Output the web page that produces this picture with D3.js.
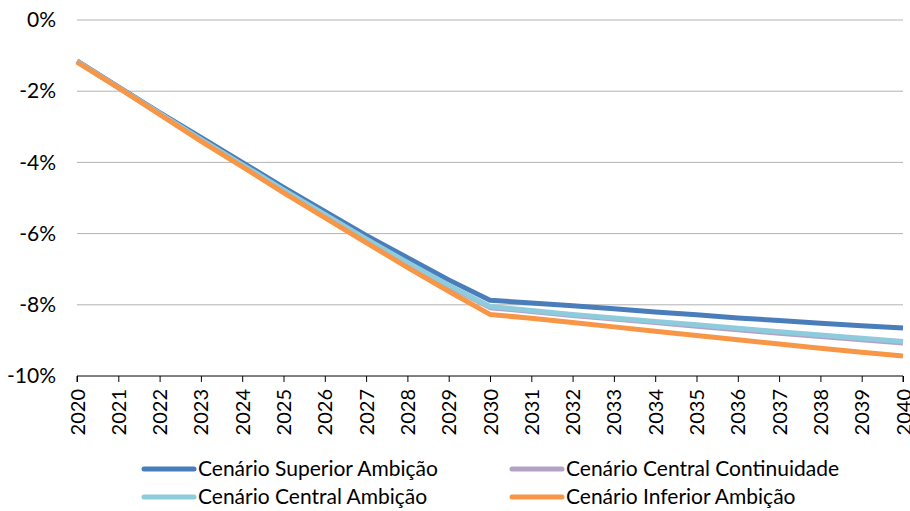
<!DOCTYPE html>
<html>
<head>
<meta charset="utf-8">
<script src="https://cdn.jsdelivr.net/npm/d3@7"></script>
<style>
  html, body { margin: 0; padding: 0; background: #fff; }
  svg { display: block; font-family: Lato, "Open Sans", sans-serif; }
</style>
</head>
<body>
<svg id="chart" width="910" height="511"></svg>
<script>
// Years on the horizontal axis
const years = d3.range(2020, 2041);

// Percentage change per scenario (in %)
const superiorAmbicao = [-1.15, -1.88, -2.60, -3.30, -4.00, -4.70, -5.38, -6.05, -6.68, -7.30, -7.87,
  -7.95, -8.03, -8.11, -8.20, -8.28, -8.37, -8.44, -8.52, -8.59, -8.65];
const centralContinuidade = [-1.16, -1.90, -2.63, -3.37, -4.08, -4.79, -5.48, -6.17, -6.84, -7.48, -8.08,
  -8.19, -8.30, -8.40, -8.50, -8.60, -8.70, -8.80, -8.89, -8.98, -9.07];
const centralAmbicao = [-1.16, -1.89, -2.62, -3.35, -4.06, -4.77, -5.46, -6.15, -6.81, -7.45, -8.05,
  -8.16, -8.27, -8.37, -8.47, -8.56, -8.66, -8.76, -8.85, -8.94, -9.03];
const inferiorAmbicao = [-1.18, -1.90, -2.65, -3.40, -4.12, -4.85, -5.55, -6.25, -6.95, -7.62, -8.27,
  -8.38, -8.50, -8.62, -8.74, -8.86, -8.98, -9.10, -9.22, -9.33, -9.44];

const yTicks = [0, -2, -4, -6, -8, -10];

// Draw order: first listed is drawn first (bottom)
const series = [
  { name: "Cenário Superior Ambição", values: superiorAmbicao, color: "#4a7ebb" },
  { name: "Cenário Central Continuidade", values: centralContinuidade, color: "#b3a2c7" },
  { name: "Cenário Central Ambição", values: centralAmbicao, color: "#8ecbdc" },
  { name: "Cenário Inferior Ambição", values: inferiorAmbicao, color: "#f79646" }
];

const svg = d3.select("#chart");
const plotLeft = 77, plotRight = 903, plotTop = 20, plotBottom = 376;
const fontStack = "Lato, 'Open Sans', sans-serif";

const x = d3.scaleLinear().domain([2020, 2040]).range([plotLeft, plotRight]);
const y = d3.scaleLinear().domain([-10, 0]).range([plotBottom, plotTop]);

// Horizontal gridlines
svg.append("g")
  .selectAll("line")
  .data(yTicks.filter(t => t !== -10))
  .join("line")
  .attr("x1", plotLeft).attr("x2", plotRight)
  .attr("y1", d => y(d)).attr("y2", d => y(d))
  .attr("stroke", "#b3b3b3").attr("stroke-width", 1);

// Y axis labels
const yAxis = d3.axisLeft(y).tickValues(yTicks).tickSize(0).tickPadding(21)
  .tickFormat(d => d + "%");
svg.append("g")
  .attr("transform", `translate(${plotLeft},0)`)
  .call(yAxis)
  .call(g => g.select(".domain").remove())
  .call(g => g.selectAll("text").attr("font-size", 21).attr("fill", "#000")
    .attr("font-family", fontStack));

// X axis with rotated year labels
const xAxis = d3.axisBottom(x).tickValues(years).tickSize(6).tickFormat(d3.format("d"));
svg.append("g")
  .attr("transform", `translate(0,${plotBottom})`)
  .call(xAxis)
  .call(g => g.select(".domain").attr("d", `M${plotLeft},6V0H${plotRight}V6`).attr("stroke", "#000"))
  .call(g => g.selectAll(".tick line").attr("stroke", "#000"))
  .call(g => g.selectAll("text")
    .attr("font-size", 20).attr("fill", "#000")
    .attr("font-family", fontStack)
    .attr("transform", "rotate(-90)")
    .attr("text-anchor", "end")
    .attr("x", -13).attr("y", 0).attr("dy", "0.35em"));

// Scenario lines
const line = d3.line()
  .x((d, i) => x(years[i]))
  .y(d => y(d));

svg.append("g")
  .selectAll("path")
  .data(series)
  .join("path")
  .attr("d", d => line(d.values))
  .attr("fill", "none")
  .attr("stroke", d => d.color)
  .attr("stroke-width", 5)
  .attr("stroke-linejoin", "round");

// Legend (2 x 2)
const legendPos = [
  { x: 143, y: 469 }, { x: 511, y: 469 },
  { x: 143, y: 497 }, { x: 511, y: 497 }
];
const legend = svg.append("g")
  .selectAll("g")
  .data(series)
  .join("g")
  .attr("transform", (d, i) => `translate(${legendPos[i].x},${legendPos[i].y})`);
legend.append("line")
  .attr("x1", 1).attr("x2", 51).attr("y1", 0).attr("y2", 0)
  .attr("stroke", d => d.color).attr("stroke-width", 5).attr("stroke-linecap", "round");
legend.append("text")
  .attr("x", 55).attr("y", 0).attr("dy", "0.35em")
  .attr("font-size", 21)
  .text(d => d.name);
</script>
</body>
</html>
